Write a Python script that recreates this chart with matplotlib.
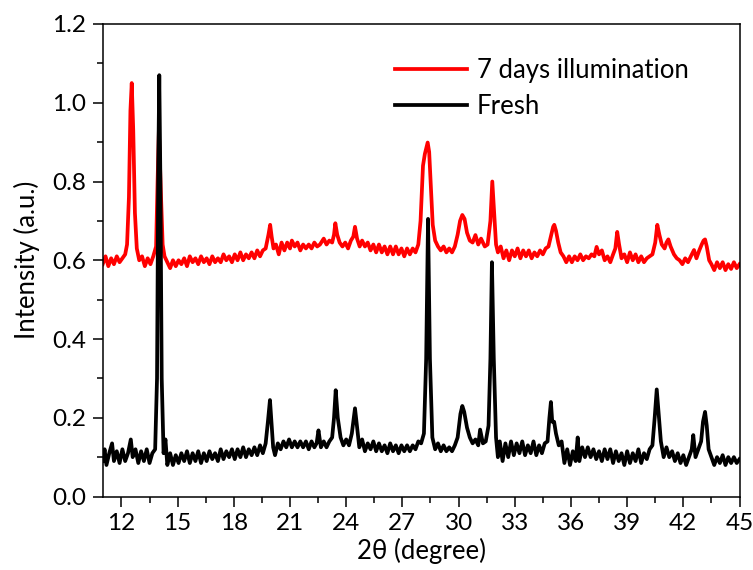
import matplotlib
matplotlib.use("Agg")
import matplotlib.pyplot as plt
from matplotlib.ticker import MultipleLocator, FormatStrFormatter

plt.rcParams['font.family'] = ['Lato', 'DejaVu Sans']

# 7 days illumination (red)
red_x = [11.0, 11.15, 11.3, 11.45, 11.6, 11.75, 11.9, 12.05, 12.2, 12.3, 12.4, 12.48, 12.55, 12.63, 12.72, 12.82,
         12.95, 13.1, 13.25, 13.4, 13.55, 13.7, 13.85, 13.93, 14.0, 14.1, 14.2, 14.3, 14.45, 14.6, 14.75,
         14.9, 15.05, 15.2, 15.35, 15.5, 15.65, 15.8, 15.95, 16.1, 16.25, 16.4, 16.55, 16.7, 16.85, 17.0,
         17.15, 17.3, 17.45, 17.6, 17.75, 17.9, 18.05, 18.2, 18.35, 18.5, 18.65, 18.8, 18.95, 19.1, 19.25,
         19.4, 19.55, 19.7, 19.85, 19.94, 20.02, 20.12, 20.25, 20.4, 20.55, 20.7, 20.85, 21.0, 21.1, 21.25,
         21.4, 21.55, 21.7, 21.85, 22.0, 22.15, 22.3, 22.45, 22.6, 22.8, 22.95, 23.1, 23.25, 23.35, 23.42,
         23.52, 23.65, 23.8, 23.95, 24.1, 24.25, 24.38, 24.47, 24.58, 24.72, 24.85, 25.0, 25.15, 25.3, 25.45,
         25.6, 25.75, 25.9, 26.05, 26.2, 26.35, 26.5, 26.65, 26.8, 26.95, 27.1, 27.25, 27.4, 27.55, 27.7,
         27.85, 27.97, 28.1, 28.2, 28.28, 28.35, 28.43, 28.52, 28.62, 28.75, 28.9, 29.05, 29.2, 29.35, 29.5,
         29.65, 29.8, 29.95, 30.08, 30.2, 30.32, 30.45, 30.6, 30.75, 30.9, 31.05, 31.2, 31.4, 31.55, 31.7,
         31.8, 31.9, 32.0, 32.1, 32.25, 32.4, 32.55, 32.7, 32.85, 33.0, 33.15, 33.3, 33.45, 33.6, 33.75,
         33.9, 34.05, 34.2, 34.35, 34.5, 34.65, 34.8, 34.95, 35.05, 35.11, 35.2, 35.32, 35.45, 35.6, 35.75,
         35.9, 36.05, 36.2, 36.35, 36.5, 36.65, 36.8, 36.95, 37.1, 37.25, 37.37, 37.5, 37.65, 37.8, 37.95,
         38.1, 38.25, 38.37, 38.47, 38.57, 38.7, 38.85, 39.0, 39.15, 39.3, 39.45, 39.6, 39.75, 39.9, 40.05,
         40.2, 40.35, 40.5, 40.61, 40.72, 40.85, 41.0, 41.1, 41.2, 41.32, 41.5, 41.65, 41.8, 41.95, 42.1,
         42.25, 42.4, 42.57, 42.7, 42.85, 42.98, 43.08, 43.16, 43.25, 43.38, 43.5, 43.65, 43.8, 43.95, 44.1,
         44.25, 44.4, 44.55, 44.7, 44.85, 45.0]
red_y = [0.59, 0.61, 0.585, 0.605, 0.59, 0.61, 0.595, 0.605, 0.615, 0.64, 0.76, 0.98, 1.05, 0.93, 0.72, 0.63,
         0.6, 0.61, 0.585, 0.605, 0.59, 0.61, 0.635, 0.8, 0.93, 0.78, 0.64, 0.61, 0.595, 0.58, 0.6,
         0.585, 0.6, 0.59, 0.605, 0.585, 0.61, 0.595, 0.605, 0.59, 0.61, 0.595, 0.605, 0.59, 0.61, 0.595,
         0.605, 0.595, 0.615, 0.6, 0.61, 0.595, 0.615, 0.6, 0.62, 0.6, 0.615, 0.605, 0.62, 0.605, 0.625,
         0.61, 0.625, 0.63, 0.665, 0.69, 0.66, 0.63, 0.64, 0.615, 0.645, 0.625, 0.645, 0.63, 0.65, 0.635,
         0.645, 0.625, 0.64, 0.63, 0.64, 0.63, 0.645, 0.635, 0.64, 0.655, 0.64, 0.65, 0.645, 0.665, 0.694,
         0.665, 0.645, 0.635, 0.645, 0.63, 0.65, 0.66, 0.685, 0.655, 0.635, 0.65, 0.635, 0.645, 0.625, 0.64,
         0.62, 0.64, 0.62, 0.635, 0.615, 0.635, 0.615, 0.635, 0.615, 0.63, 0.61, 0.63, 0.615, 0.63, 0.62,
         0.64, 0.7, 0.84, 0.87, 0.885, 0.899, 0.875, 0.79, 0.69, 0.65, 0.635, 0.625, 0.635, 0.62, 0.63,
         0.62, 0.635, 0.665, 0.7, 0.715, 0.705, 0.67, 0.65, 0.645, 0.664, 0.64, 0.655, 0.635, 0.64, 0.7,
         0.8, 0.72, 0.64, 0.62, 0.635, 0.605, 0.625, 0.6, 0.625, 0.61, 0.63, 0.605, 0.625, 0.61, 0.625,
         0.605, 0.62, 0.61, 0.625, 0.615, 0.63, 0.635, 0.665, 0.685, 0.69, 0.675, 0.645, 0.62, 0.61, 0.595,
         0.61, 0.595, 0.61, 0.6, 0.615, 0.6, 0.61, 0.605, 0.615, 0.61, 0.634, 0.615, 0.625, 0.6, 0.61,
         0.595, 0.615, 0.63, 0.672, 0.64, 0.605, 0.615, 0.595, 0.62, 0.6, 0.615, 0.595, 0.61, 0.595, 0.605,
         0.61, 0.615, 0.645, 0.69, 0.665, 0.64, 0.63, 0.645, 0.653, 0.635, 0.615, 0.605, 0.6, 0.59, 0.605,
         0.595, 0.61, 0.626, 0.605, 0.625, 0.64, 0.65, 0.653, 0.635, 0.6, 0.59, 0.575, 0.595, 0.58, 0.595,
         0.575, 0.59, 0.578, 0.595, 0.58, 0.59]

# Fresh (black)
black_x = [11.0, 11.1, 11.2, 11.35, 11.5, 11.6, 11.75, 11.9, 12.05, 12.2, 12.35, 12.5, 12.6, 12.75, 12.9, 13.05,
           13.2, 13.35, 13.5, 13.65, 13.8, 13.9, 13.97, 14.02, 14.08, 14.15, 14.25, 14.35, 14.45, 14.6, 14.75,
           14.9, 15.05, 15.2, 15.35, 15.5, 15.65, 15.8, 15.95, 16.1, 16.25, 16.4, 16.55, 16.7, 16.85, 17.0,
           17.15, 17.3, 17.45, 17.6, 17.75, 17.9, 18.05, 18.2, 18.35, 18.5, 18.65, 18.8, 18.95, 19.1, 19.25,
           19.4, 19.55, 19.7, 19.82, 19.93, 20.02, 20.1, 20.2, 20.35, 20.5, 20.65, 20.8, 20.95, 21.1, 21.25,
           21.4, 21.55, 21.7, 21.85, 22.0, 22.15, 22.3, 22.42, 22.52, 22.65, 22.8, 22.95, 23.1, 23.25, 23.35,
           23.44, 23.55, 23.7, 23.85, 24.0, 24.15, 24.3, 24.47, 24.57, 24.7, 24.85, 25.0, 25.15, 25.3, 25.45,
           25.6, 25.75, 25.9, 26.05, 26.2, 26.35, 26.5, 26.65, 26.8, 26.95, 27.1, 27.25, 27.4, 27.55, 27.7,
           27.85, 28.0, 28.15, 28.27, 28.37, 28.47, 28.6, 28.75, 28.9, 29.05, 29.2, 29.35, 29.5, 29.65, 29.8,
           29.95, 30.1, 30.2, 30.3, 30.45, 30.6, 30.75, 30.9, 31.05, 31.15, 31.3, 31.45, 31.6, 31.7, 31.78,
           31.88, 32.0, 32.1, 32.2, 32.35, 32.5, 32.65, 32.8, 32.95, 33.1, 33.25, 33.4, 33.55, 33.7, 33.85,
           34.0, 34.15, 34.3, 34.45, 34.6, 34.75, 34.85, 34.93, 35.0, 35.1, 35.2, 35.35, 35.5, 35.65, 35.8,
           35.95, 36.1, 36.25, 36.36, 36.45, 36.6, 36.75, 36.9, 37.05, 37.2, 37.35, 37.5, 37.65, 37.8, 37.95,
           38.1, 38.25, 38.4, 38.55, 38.7, 38.85, 39.0, 39.15, 39.3, 39.45, 39.6, 39.75, 39.9, 40.05, 40.2,
           40.35, 40.47, 40.58, 40.7, 40.8, 40.95, 41.1, 41.25, 41.4, 41.55, 41.7, 41.85, 42.0, 42.15, 42.3,
           42.45, 42.53, 42.65, 42.8, 42.95, 43.05, 43.16, 43.25, 43.35, 43.5, 43.65, 43.8, 43.95, 44.1, 44.25,
           44.4, 44.55, 44.7, 44.85, 45.0]
black_y = [0.09, 0.12, 0.08, 0.11, 0.135, 0.09, 0.115, 0.085, 0.12, 0.09, 0.11, 0.145, 0.1, 0.12, 0.085, 0.115,
           0.09, 0.12, 0.085, 0.11, 0.12, 0.3, 0.85, 1.07, 0.8, 0.3, 0.11, 0.145, 0.08, 0.11, 0.08,
           0.105, 0.085, 0.11, 0.09, 0.115, 0.085, 0.11, 0.09, 0.115, 0.085, 0.11, 0.09, 0.115, 0.095, 0.11,
           0.09, 0.12, 0.095, 0.115, 0.1, 0.12, 0.095, 0.12, 0.1, 0.125, 0.1, 0.12, 0.105, 0.125, 0.105,
           0.13, 0.11, 0.135, 0.19, 0.245, 0.18, 0.125, 0.105, 0.135, 0.12, 0.14, 0.125, 0.145, 0.125, 0.14,
           0.125, 0.14, 0.125, 0.14, 0.12, 0.14, 0.125, 0.135, 0.168, 0.125, 0.14, 0.125, 0.14, 0.15, 0.2,
           0.27, 0.2, 0.15, 0.13, 0.145, 0.13, 0.16, 0.224, 0.18, 0.125, 0.145, 0.115, 0.135, 0.12, 0.14,
           0.115, 0.135, 0.115, 0.13, 0.11, 0.135, 0.115, 0.13, 0.11, 0.13, 0.115, 0.13, 0.115, 0.13, 0.12,
           0.14, 0.135, 0.16, 0.35, 0.705, 0.35, 0.15, 0.12, 0.135, 0.115, 0.13, 0.115, 0.125, 0.115, 0.13,
           0.15, 0.21, 0.23, 0.215, 0.175, 0.15, 0.135, 0.145, 0.13, 0.17, 0.135, 0.14, 0.18, 0.35, 0.595,
           0.35, 0.15, 0.1, 0.14, 0.09, 0.135, 0.1, 0.14, 0.105, 0.135, 0.11, 0.14, 0.105, 0.13, 0.11,
           0.14, 0.105, 0.13, 0.11, 0.135, 0.14, 0.2, 0.24, 0.19, 0.19, 0.16, 0.13, 0.14, 0.085, 0.12,
           0.08, 0.115, 0.09, 0.15, 0.09, 0.125, 0.1, 0.125, 0.1, 0.12, 0.095, 0.115, 0.09, 0.12, 0.095,
           0.12, 0.085, 0.115, 0.09, 0.11, 0.08, 0.115, 0.085, 0.11, 0.09, 0.12, 0.085, 0.11, 0.095, 0.12,
           0.13, 0.2, 0.272, 0.2, 0.14, 0.1, 0.125, 0.1, 0.115, 0.09, 0.11, 0.085, 0.105, 0.08, 0.1,
           0.12, 0.156, 0.1, 0.12, 0.14, 0.19, 0.215, 0.18, 0.12, 0.1, 0.08, 0.1, 0.085, 0.105, 0.08,
           0.1, 0.085, 0.1, 0.085, 0.095]

fig = plt.figure(figsize=(7.53, 5.70), dpi=100)
ax = fig.add_axes([0.1364, 0.1289, 0.8457, 0.8290])

ax.plot(red_x, red_y, color='#ff0000', lw=2.7, label='7 days illumination')
ax.plot(black_x, black_y, color='black', lw=2.7, label='Fresh')

ax.set_xlim(11, 45)
ax.set_ylim(0, 1.2)
ax.xaxis.set_major_locator(MultipleLocator(3))
ax.xaxis.set_minor_locator(MultipleLocator(1.5))
ax.yaxis.set_major_locator(MultipleLocator(0.2))
ax.yaxis.set_minor_locator(MultipleLocator(0.1))
ax.yaxis.set_major_formatter(FormatStrFormatter('%.1f'))
ax.tick_params(which='both', direction='out', top=False, right=False, width=1.1)
ax.tick_params(which='major', length=7, labelsize=17.5, pad=5)
ax.tick_params(which='minor', length=4)
for s in ax.spines.values():
    s.set_linewidth(1.1)

ax.set_xlabel('2\u03b8 (degree)', fontsize=18.5, labelpad=3)
ax.set_ylabel('Intensity (a.u.)', fontsize=18.5, labelpad=9)

ax.legend(loc='upper left', bbox_to_anchor=(0.422, 0.978), frameon=False, fontsize=18.5,
          handlelength=2.8, handletextpad=0.4, labelspacing=0.45)

fig.savefig('out.png', dpi=100)
